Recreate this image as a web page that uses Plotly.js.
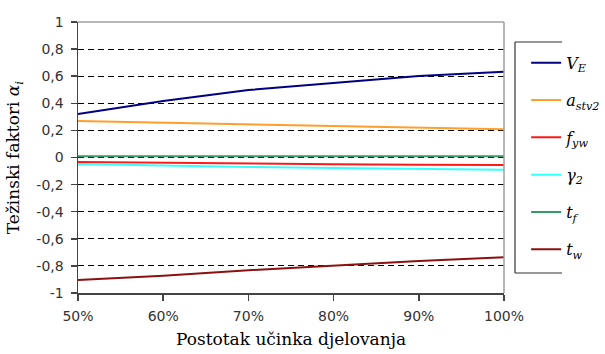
<!DOCTYPE html>
<html>
<head>
<meta charset="utf-8">
<script src="https://cdn.plot.ly/plotly-3.0.1.min.js"></script>
<style>html,body{margin:0;padding:0;background:#fff;}#chart{width:605px;height:354px;}</style>
</head>
<body>
<div id="chart"></div>
<script>
const xCategories = [50, 60, 70, 80, 90, 100];
const xTickText = ['50%', '60%', '70%', '80%', '90%', '100%'];
const yTickVals = [-1, -0.8, -0.6, -0.4, -0.2, 0, 0.2, 0.4, 0.6, 0.8, 1];
const yTickText = ['-1', '-0,8', '-0,6', '-0,4', '-0,2', '0', '0,2', '0,4', '0,6', '0,8', '1'];

const seriesNames = ['<i>V<sub>E</sub></i>', '<i>a<sub>stv2</sub></i>', '<i>f<sub>yw</sub></i>', '<i>γ<sub>2</sub></i>', '<i>t<sub>f</sub></i>', '<i>t<sub>w</sub></i>'];
const seriesColors = ['#000080', '#FF9E2A', '#FF1A1A', '#33FFFF', '#339966', '#8B1010'];

const VE    = [0.321, 0.417, 0.498, 0.552, 0.601, 0.633];
const astv2 = [0.270, 0.258, 0.245, 0.233, 0.220, 0.208];
const fyw   = [-0.033, -0.040, -0.045, -0.050, -0.053, -0.056];
const gamma2= [-0.048, -0.060, -0.070, -0.078, -0.085, -0.091];
const tf    = [0.010, 0.010, 0.010, 0.010, 0.010, 0.010];
const tw    = [-0.904, -0.873, -0.832, -0.798, -0.764, -0.737];

const seriesValues = [VE, astv2, fyw, gamma2, tf, tw];

const SERIF = 'DejaVu Serif';
const SANS = 'DejaVu Sans';

const traces = seriesValues.map((vals, i) => ({
  x: xCategories,
  y: vals,
  type: 'scatter',
  mode: 'lines',
  name: seriesNames[i],
  legendgroup: 'g' + i,
  line: {color: seriesColors[i], width: 2}
}));

const layout = {
  width: 605, height: 354,
  margin: {l: 78, r: 101, t: 22, b: 61, autoexpand: false},
  paper_bgcolor: '#fff', plot_bgcolor: '#fff',
  font: {family: SANS},
  showlegend: true,
  legend: {
    x: 1.052, xanchor: 'left', y: 0.912, yanchor: 'top',
    traceorder: 'grouped', tracegroupgap: 13.5,
    font: {family: SERIF, size: 16, color: '#000'},
    bgcolor: 'rgba(0,0,0,0)', borderwidth: 0
  },
  xaxis: {
    range: [50, 100], tickvals: xCategories, ticktext: xTickText,
    showgrid: false, zeroline: false,
    showline: true, linecolor: '#444', linewidth: 1.5,
    ticks: 'outside', ticklen: 6, tickcolor: '#444', tickwidth: 1.5,
    ticklabelstandoff: 4,
    tickfont: {family: SANS, size: 14, color: '#333'},
    title: {text: 'Postotak učinka djelovanja', font: {family: SERIF, size: 17, color: '#000'}, standoff: 10}
  },
  yaxis: {
    range: [-1, 1], tickvals: yTickVals, ticktext: yTickText,
    showgrid: true, gridcolor: '#000', gridwidth: 1, griddash: '6px,4px',
    zeroline: false,
    showline: true, linecolor: '#444', linewidth: 1.5,
    ticks: 'outside', ticklen: 6, tickcolor: '#444', tickwidth: 1.5,
    ticklabelstandoff: 4,
    tickfont: {family: SANS, size: 14, color: '#333'},
    title: {text: 'Težinski faktori <i>α<sub>i</sub></i>', font: {family: SERIF, size: 17, color: '#000'}, standoff: 12}
  },
  shapes: [
    {type: 'line', xref: 'paper', yref: 'paper', x0: 0, x1: 1, y0: 1, y1: 1, line: {color: '#a0a0a0', width: 1.5}},
    {type: 'line', xref: 'paper', yref: 'paper', x0: 1, x1: 1, y0: 0, y1: 1, line: {color: '#a0a0a0', width: 1.5}},
    {type: 'line', xref: 'paper', yref: 'paper', x0: 1.0258, x1: 1.1362, y0: 0.9262, y1: 0.9262, line: {color: '#333', width: 1.2}},
    {type: 'line', xref: 'paper', yref: 'paper', x0: 1.0258, x1: 1.0258, y0: 0.0738, y1: 0.9262, line: {color: '#333', width: 1.2}},
    {type: 'line', xref: 'paper', yref: 'paper', x0: 1.0258, x1: 1.1362, y0: 0.0738, y1: 0.0738, line: {color: '#333', width: 1.2}}
  ]
};

Plotly.newPlot('chart', traces, layout, {displayModeBar: false, staticPlot: true});
</script>
</body>
</html>
